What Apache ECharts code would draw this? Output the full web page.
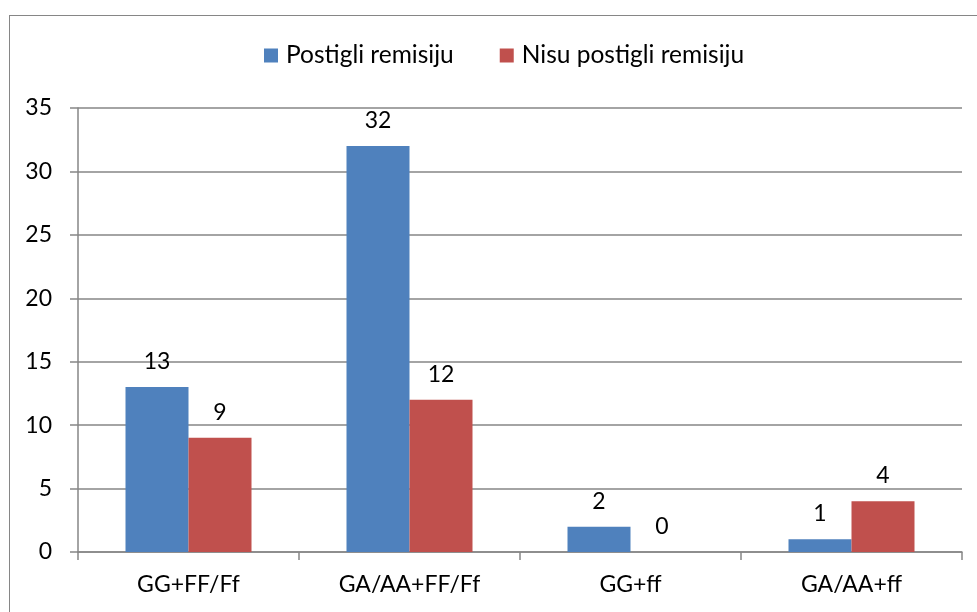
<!DOCTYPE html>
<html>
<head>
<meta charset="utf-8">
<script src="https://cdn.jsdelivr.net/npm/echarts@6/dist/echarts.min.js"></script>
<style>
html,body{margin:0;padding:0;background:#fff;}
#frame{position:absolute;left:9px;top:15px;width:1000px;height:700px;border:1.5px solid #868686;box-sizing:border-box;}
#chart{position:absolute;left:0;top:0;width:977px;height:612px;}
</style>
</head>
<body>
<div id="frame"></div>
<div id="chart"></div>
<script>
const categories = ['GG+FF/Ff', 'GA/AA+FF/Ff', 'GG+ff', 'GA/AA+ff'];
const seriesNames = ['Postigli remisiju', 'Nisu postigli remisiju'];
const postigli = [13, 32, 2, 1];
const nisuPostigli = [9, 12, 0, 4];
const yTicks = [0, 5, 10, 15, 20, 25, 30, 35];

const font = 'Lato';
const fs = 23;
const chart = echarts.init(document.getElementById('chart'));
chart.setOption({
  animation: false,
  textStyle: { fontFamily: font },
  legend: {
    top: 38,
    left: 259,
    itemWidth: 14,
    itemHeight: 14,
    itemGap: 46,
    icon: 'rect',
    textStyle: { fontFamily: font, fontSize: 24.5, color: '#000', padding: [0, 0, 0, 3] },
    data: seriesNames
  },
  grid: { left: 78, right: 15, top: 108, bottom: 60, containLabel: false },
  xAxis: {
    type: 'category',
    data: categories,
    axisLine: { lineStyle: { color: '#868686', width: 1.5 } },
    axisTick: { show: true, length: 8, lineStyle: { color: '#868686', width: 1.5 } },
    axisLabel: { fontFamily: font, fontSize: fs, color: '#000', margin: 21 }
  },
  yAxis: {
    type: 'value',
    min: yTicks[0],
    max: yTicks[yTicks.length - 1],
    interval: 5,
    axisLine: { show: true, lineStyle: { color: '#868686', width: 1.5 } },
    axisTick: { show: true, length: 8, lineStyle: { color: '#868686', width: 1.5 } },
    splitLine: { lineStyle: { color: '#868686', width: 1.5 } },
    axisLabel: { fontFamily: font, fontSize: fs, color: '#000', margin: 26 }
  },
  series: [
    {
      name: seriesNames[0],
      type: 'bar',
      data: postigli,
      barWidth: 63,
      barGap: '0%',
      itemStyle: { color: '#4F81BD' },
      label: { show: true, position: 'top', distance: 14, fontFamily: font, fontSize: fs, color: '#000' }
    },
    {
      name: seriesNames[1],
      type: 'bar',
      data: nisuPostigli,
      barWidth: 63,
      barGap: '0%',
      itemStyle: { color: '#C0504D' },
      label: { show: true, position: 'top', distance: 14, fontFamily: font, fontSize: fs, color: '#000' }
    }
  ]
});
</script>
</body>
</html>
